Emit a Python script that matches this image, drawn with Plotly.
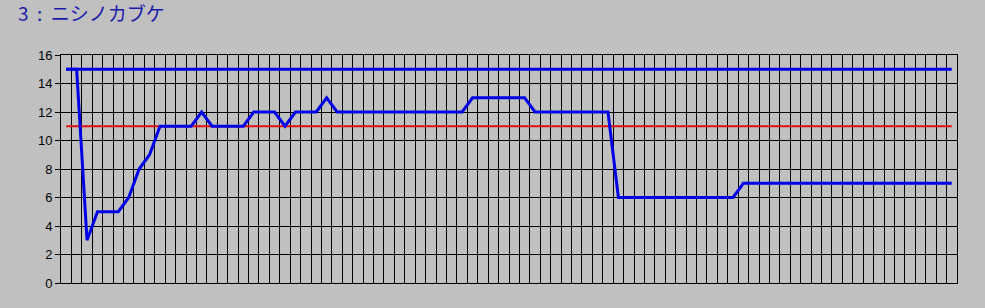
import plotly.graph_objects as go

# Data
title_text = "3 : ニシノカブケ"
values = [15, 15, 3, 5, 5, 5, 6, 8, 9,
          11, 11, 11, 11, 12, 11, 11, 11, 11,
          12, 12, 12, 11, 12, 12, 12, 13,
          12, 12, 12, 12, 12, 12, 12, 12, 12, 12, 12, 12, 12,
          13, 13, 13, 13, 13, 13,
          12, 12, 12, 12, 12, 12, 12, 12,
          6, 6, 6, 6, 6, 6, 6, 6, 6, 6, 6, 6,
          7, 7, 7, 7, 7, 7, 7, 7, 7, 7, 7, 7, 7, 7, 7, 7, 7, 7, 7, 7, 7]
upper_level = 15
mid_level = 11
y_ticks = [0, 2, 4, 6, 8, 10, 12, 14, 16]

n = len(values)
xs = list(range(n))

fig = go.Figure()
fig.add_trace(go.Scatter(x=[xs[0], xs[-1]], y=[mid_level, mid_level], mode="lines",
                         line=dict(color="#e01010", width=2), hoverinfo="skip"))
fig.add_trace(go.Scatter(x=[xs[0], xs[-1]], y=[upper_level, upper_level], mode="lines",
                         line=dict(color="#0000e6", width=3), hoverinfo="skip"))
fig.add_trace(go.Scatter(x=xs, y=values, mode="lines",
                         line=dict(color="#0000e6", width=3)))

fig.update_layout(
    width=985, height=308,
    margin=dict(l=61, r=28, t=55, b=25),
    paper_bgcolor="#c0c0c0", plot_bgcolor="#c0c0c0",
    showlegend=False,
    title=dict(text=title_text.replace(" ", "\u00a0\u00a0"), x=18 / 985, xref="container",
               xanchor="left", y=1 - 14.5 / 308, yref="container", yanchor="middle",
               font=dict(family="Noto Sans CJK JP", size=19, color="#1a1aaa")),
)
fig.update_xaxes(range=[-0.5, n - 0.5], tick0=0.5, dtick=1, showgrid=True,
                 gridcolor="black", gridwidth=1, showticklabels=False, ticks="",
                 zeroline=False, showline=True, linecolor="black", linewidth=1, mirror=True)
fig.update_yaxes(range=[0, 16], tickvals=y_ticks, showgrid=True, gridcolor="black",
                 gridwidth=1, ticks="outside", ticklen=5, tickcolor="black",
                 zeroline=False, showline=True, linecolor="black", linewidth=1, mirror=True,
                 tickfont=dict(family="Liberation Sans", size=13, color="black"))

fig.write_html("out.html")
